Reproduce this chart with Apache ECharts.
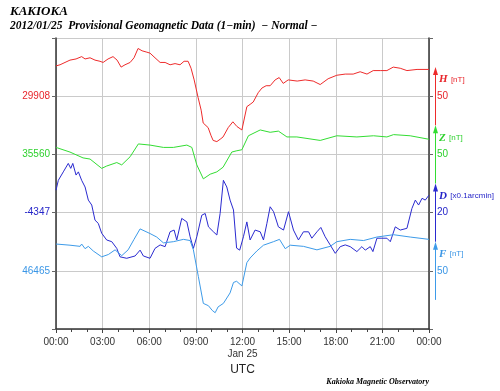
<!DOCTYPE html>
<html>
<head>
<meta charset="utf-8">
<script src="https://cdn.jsdelivr.net/npm/echarts@6/dist/echarts.min.js"></script>
<style>
html,body{margin:0;padding:0;background:#fff;}
#chart{width:500px;height:391px;}
</style>
</head>
<body>
<div id="chart"></div>
<script>
// ---- data (hours UTC, value) ----
const hData = [[0,29934],[0.26,29935],[0.58,29937],[0.9,29939],[1.29,29940],[1.65,29942],[1.87,29940],[2.19,29941],[2.51,29939],[2.83,29938],[3.03,29937],[3.35,29940],[3.67,29942],[3.93,29939],[4.19,29933],[4.44,29935],[4.77,29937],[5.02,29941],[5.28,29949],[5.54,29947],[5.8,29946],[6.05,29945],[6.37,29941],[6.7,29937],[7.02,29937],[7.34,29935],[7.66,29936],[7.98,29935],[8.24,29938],[8.5,29938],[8.69,29932],[8.89,29922],[9.14,29907],[9.34,29896],[9.47,29885],[9.79,29881],[9.98,29874],[10.11,29870],[10.35,29869],[10.56,29871],[10.75,29873],[11.08,29881],[11.38,29886],[11.64,29882],[11.96,29879],[12.28,29899],[12.49,29901],[12.69,29903],[13.01,29911],[13.25,29915],[13.52,29917],[13.78,29917],[14.1,29922],[14.36,29924],[14.62,29919],[14.94,29922],[15.52,29921],[16.03,29922],[16.55,29921],[17.0,29918],[17.51,29923],[18.07,29926],[18.61,29927],[19.12,29927],[19.57,29929],[20.01,29927],[20.41,29930],[20.86,29930],[21.29,29930],[21.7,29933],[22.15,29932],[22.58,29930],[23.23,29931],[24,29931]];
const zData = [[0,35566],[0.9,35562],[1.74,35557],[2.19,35556],[2.94,35548],[3.26,35550],[3.91,35553],[4.23,35551],[4.77,35558],[5.3,35569],[6.05,35568],[6.91,35566],[7.55,35566],[8.42,35568],[8.74,35566],[9.06,35551],[9.48,35539],[9.92,35543],[10.35,35545],[10.75,35549],[11.31,35562],[11.59,35563],[11.96,35564],[12.38,35576],[13.14,35581],[13.78,35579],[14.31,35580],[14.86,35575],[15.5,35575],[17.0,35572],[18.07,35576],[19.36,35575],[20.43,35576],[21.29,35575],[21.72,35577],[22.79,35576],[24,35573]];
const dData = [[0,-4339.3],[0.15,-4335.9],[0.47,-4333.0],[0.79,-4330.1],[0.95,-4331.8],[1.08,-4330.1],[1.29,-4334.1],[1.44,-4333.0],[1.65,-4335.9],[1.87,-4338.2],[2.08,-4342.7],[2.3,-4344.4],[2.51,-4349.6],[2.72,-4350.7],[2.94,-4354.1],[3.26,-4356.4],[3.59,-4357.0],[3.91,-4359.3],[4.12,-4362.2],[4.55,-4362.7],[5.09,-4361.9],[5.41,-4359.9],[5.62,-4361.9],[6.05,-4362.7],[6.37,-4359.3],[6.7,-4358.1],[7.02,-4358.7],[7.34,-4353.6],[7.6,-4353.0],[7.77,-4356.4],[8.09,-4349.0],[8.42,-4350.2],[8.63,-4355.3],[8.84,-4359.3],[9.06,-4355.3],[9.38,-4347.9],[9.6,-4347.3],[9.81,-4351.9],[10.13,-4353.6],[10.35,-4354.7],[10.56,-4347.3],[10.77,-4335.9],[10.99,-4338.2],[11.2,-4342.7],[11.42,-4346.1],[11.62,-4359.2],[11.82,-4359.9],[12.06,-4355.3],[12.28,-4350.2],[12.49,-4356.4],[12.81,-4353.0],[13.14,-4353.6],[13.35,-4356.4],[13.57,-4350.7],[13.78,-4345.0],[14.0,-4346.7],[14.31,-4351.9],[14.64,-4353.0],[14.96,-4346.7],[15.28,-4353.0],[15.6,-4356.4],[15.92,-4353.6],[16.25,-4353.6],[16.46,-4355.8],[16.79,-4353.6],[17.04,-4352.1],[17.32,-4355.3],[17.64,-4358.1],[17.97,-4361.0],[18.29,-4358.7],[18.61,-4358.1],[18.93,-4358.7],[19.36,-4360.4],[19.68,-4358.7],[19.9,-4359.9],[20.22,-4358.7],[20.39,-4360.4],[20.65,-4355.8],[20.97,-4355.8],[21.29,-4355.8],[21.51,-4357.0],[21.83,-4351.9],[22.15,-4353.0],[22.58,-4352.4],[22.9,-4345.6],[23.12,-4342.7],[23.33,-4344.4],[23.55,-4342.1],[23.76,-4342.7],[24,-4341.0]];
const fData = [[0,46488],[0.9,46487],[1.55,46486],[1.65,46488],[1.87,46484],[2.08,46486],[2.4,46482],[2.94,46477],[3.37,46479],[3.8,46483],[4.23,46478],[4.64,46483],[5.02,46492],[5.41,46501],[6.05,46497],[6.48,46494],[6.91,46489],[7.55,46490],[8.2,46492],[8.63,46491],[8.84,46483],[9.16,46460],[9.48,46437],[9.81,46435],[10.05,46431],[10.24,46429],[10.43,46434],[10.77,46437],[11.2,46446],[11.42,46455],[11.62,46456],[11.96,46452],[12.28,46472],[12.49,46476],[12.92,46482],[13.35,46487],[13.99,46490],[14.38,46492],[14.75,46484],[15.07,46487],[15.92,46486],[16.79,46483],[17.64,46486],[18.07,46490],[18.93,46492],[19.79,46491],[20.65,46494],[21.72,46496],[22.79,46494],[24,46492]];

// baselines (left labels) and scale per grid division (right labels)
const components = ['H','Z','D','F'];
const baselines = [29908, 35560, -4347, 46465];
const scalePerDiv = [50, 50, 20, 50];
const units = ['[nT]','[nT]','[x0.1arcmin]','[nT]'];
const colors = ['#ee2b2b', '#33dd33', '#2a2ad0', '#3d9be9'];
const labelColors = ['#e8252b', '#2ed12e', '#2525c8', '#3a96e6'];
const gridPos = [4, 3, 2, 1]; // gridline index (from bottom, 0..5) where baseline sits

const chart = echarts.init(document.getElementById('chart'), null, {renderer:'canvas'});

const keys = ['h','z','d','f'];
const rich = {};
keys.forEach((k,i)=>{ rich[k] = {color: labelColors[i], fontSize: 10, fontFamily: 'Liberation Sans'}; });

const hiddenAxes = baselines.map((b,i)=>({
  type:'value', show:false, gridIndex:0,
  min: b - gridPos[i]*scalePerDiv[i],
  max: b + (5-gridPos[i])*scalePerDiv[i]
}));

const seriesData = [hData, zData, dData, fData];

chart.setOption({
  animation:false,
  backgroundColor:'#fff',
  grid:{left:56, right:71, top:38, bottom:62, containLabel:false, outerBoundsMode:'none'},
  xAxis:{
    type:'value', min:0, max:24, interval:3,
    axisLine:{show:true, onZero:false, lineStyle:{color:'#333', width:1.5}},
    axisTick:{show:true, length:4, lineStyle:{color:'#444'}},
    minorTick:{show:true, splitNumber:3, length:3, lineStyle:{color:'#444'}},
    splitLine:{show:true, lineStyle:{color:'#cacaca', width:1}},
    axisLabel:{
      fontSize:10, color:'#333', margin:7, fontFamily:'Liberation Sans', lineHeight:12,
      formatter:(v)=>{ const h = String(v%24).padStart(2,'0')+':00'; return v===12 ? h+'\nJan 25' : h; }
    }
  },
  yAxis:[
    {
      type:'value', position:'left', min:0, max:5, interval:1,
      axisLine:{show:true, lineStyle:{color:'#333', width:1.5}},
      axisTick:{show:true, length:4, lineStyle:{color:'#666'}},
      splitLine:{show:true, lineStyle:{color:'#cacaca', width:1}},
      axisLabel:{margin:6, rich:rich, formatter:(v)=>{
        const i = gridPos.indexOf(v); return i>=0 ? '{'+keys[i]+'|'+baselines[i]+'}' : '';
      }}
    },
    {
      type:'value', position:'right', min:0, max:5, interval:1,
      axisLine:{show:true, lineStyle:{color:'#333', width:1.5}},
      axisTick:{show:true, length:4, lineStyle:{color:'#666'}},
      splitLine:{show:false},
      axisLabel:{margin:8, rich:rich, formatter:(v)=>{
        const i = gridPos.indexOf(v); return i>=0 ? '{'+keys[i]+'|'+scalePerDiv[i]+'}' : '';
      }}
    }
  ].concat(hiddenAxes),
  series: seriesData.map((d,i)=>({
    type:'line', name:components[i], xAxisIndex:0, yAxisIndex:2+i,
    data:d, showSymbol:false, symbol:'none',
    lineStyle:{color:colors[i], width:1}, itemStyle:{color:colors[i]}, z:3
  }))
});

// decorations: title texts and scale arrows placed through the axes
const g = [];
g.push({type:'text', left:10, top:5, style:{text:'KAKIOKA', font:'italic bold 13px "Liberation Serif"', fill:'#000'}});
g.push({type:'text', left:10, top:20, style:{text:'2012/01/25  Provisional Geomagnetic Data (1\u2212min)  \u2212 Normal \u2212', font:'italic bold 11.5px "Liberation Serif"', fill:'#000'}});
const xMid = chart.convertToPixel({xAxisIndex:0}, 12);
const xEnd = chart.convertToPixel({xAxisIndex:0}, 24);
const yBottom = chart.convertToPixel({yAxisIndex:0}, 0);
g.push({type:'text', x:xMid, y:yBottom+41, style:{text:'UTC', font:'12px "Liberation Sans"', fill:'#222', textAlign:'center', textVerticalAlign:'middle'}});
g.push({type:'text', x:xEnd, y:yBottom+53, style:{text:'Kakioka Magnetic Observatory', font:'italic bold 8px "Liberation Serif"', fill:'#000', textAlign:'right', textVerticalAlign:'middle'}});

const ax = xEnd + 6.5;
baselines.forEach((b,i)=>{
  const yTop = chart.convertToPixel({yAxisIndex:2+i}, b + scalePerDiv[i]/2);
  const yBot = chart.convertToPixel({yAxisIndex:2+i}, b - scalePerDiv[i]/2);
  g.push({type:'line', shape:{x1:ax, y1:yBot, x2:ax, y2:yTop+4}, style:{stroke:colors[i], lineWidth:1}});
  g.push({type:'polygon', shape:{points:[[ax, yTop],[ax-2.5, yTop+8],[ax+2.5, yTop+8]]}, style:{fill:colors[i]}});
  g.push({type:'text', x:ax+3.5, y:yTop+12.5, style:{
    rich:{b:{font:'italic bold 11px "Liberation Serif"', fill:labelColors[i]}, s:{font:'8px "Liberation Sans"', fill:labelColors[i]}},
    text:'{b|'+components[i]+'} {s|'+units[i]+'}', textVerticalAlign:'middle'
  }});
});
chart.setOption({graphic:g});
</script>
</body>
</html>
